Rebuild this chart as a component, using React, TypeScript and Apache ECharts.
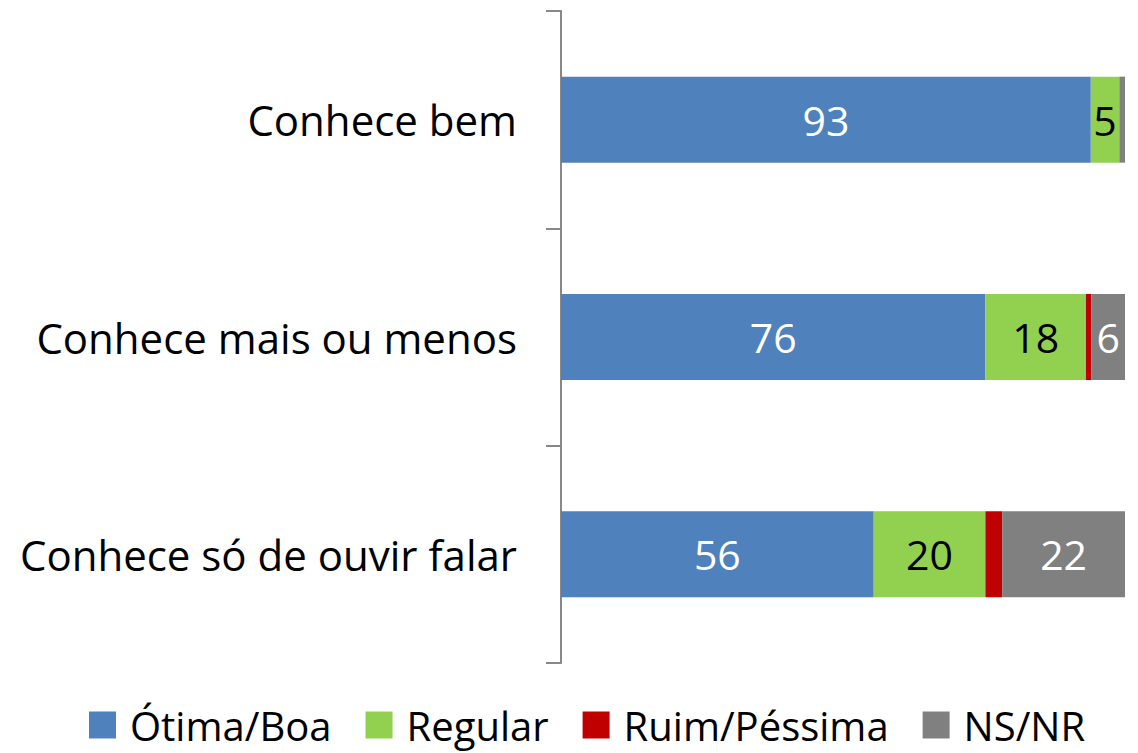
import React, { useEffect, useRef } from "react";
import * as echarts from "echarts";

const categories = ["Conhece bem", "Conhece mais ou menos", "Conhece só de ouvir falar"];
const seriesNames = ["Ótima/Boa", "Regular", "Ruim/Péssima", "NS/NR"];
const otimaBoa = [93, 76, 56];
const regular = [5, 18, 20];
const ruimPessima = [0, 1, 3];
const nsNr = [1, 6, 22];
const colors = ["#4F81BD", "#92D050", "#C00000", "#808080"];
const labelColors = ["#FFFFFF", "#000000", "#FFFFFF", "#FFFFFF"];

const FONT = "'Open Sans', sans-serif";

export default function App() {
  const ref = useRef<HTMLDivElement>(null);
  useEffect(() => {
    if (!ref.current) return;
    const chart = echarts.init(ref.current, undefined, { renderer: "svg" });
    const raw = [otimaBoa, regular, ruimPessima, nsNr];
    const totals = categories.map((_, i) => raw.reduce((s, arr) => s + arr[i], 0));
    const series = raw.map((arr, si) => ({
      name: seriesNames[si],
      type: "bar",
      stack: "total",
      barWidth: 86,
      itemStyle: { color: colors[si] },
      data: arr.map((v, i) => ({ value: (v / totals[i]) * 100, raw: v })),
      label: {
        show: true,
        position: "inside",
        color: labelColors[si],
        fontFamily: FONT,
        fontSize: 41,
        formatter: (p: any) => (p.data.raw >= 5 ? String(p.data.raw) : ""),
      },
    }));
    chart.setOption({
      animation: false,
      grid: { left: 561, right: 13, top: 11, bottom: 90, containLabel: false },
      xAxis: { type: "value", min: 0, max: 100, show: false },
      yAxis: {
        type: "category",
        data: categories,
        inverse: true,
        axisLine: { show: true, lineStyle: { color: "#888888", width: 2 } },
        axisTick: { show: true, length: 15, lineStyle: { color: "#888888", width: 2 } },
        axisLabel: { color: "#000000", fontFamily: FONT, fontSize: 42, margin: 44 },
      },
      legend: {
        top: 704,
        left: 89,
        padding: 0,
        icon: "rect",
        itemWidth: 27,
        itemHeight: 27,
        itemGap: 34,
        textStyle: {
          color: "#000000",
          fontFamily: FONT,
          fontSize: 40,
          lineHeight: 42,
          padding: [0, 0, 0, 9],
        },
        data: seriesNames,
      },
      series,
    });
    return () => chart.dispose();
  }, []);
  return <div ref={ref} style={{ width: 1138, height: 753, position: "absolute", left: 0, top: 0 }} />;
}
